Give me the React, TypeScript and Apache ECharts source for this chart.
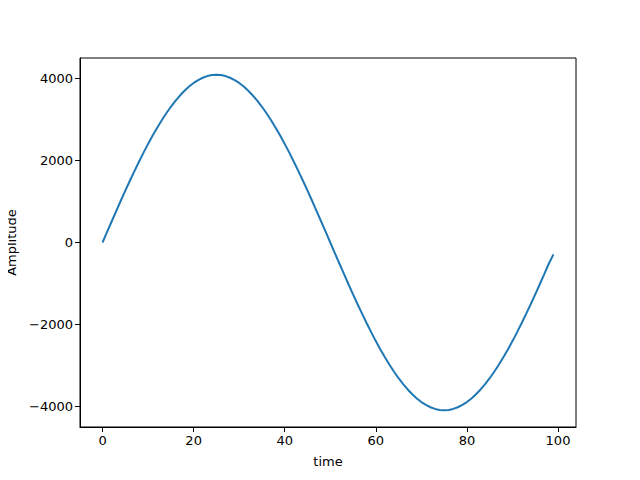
import React, { useEffect, useRef } from "react";
import * as echarts from "echarts";

// sample index 0..99
const timeSteps: number[] = Array.from({ length: 100 }, (_, i) => i);

// amplitude, one value per sample
const amplitude: number[] = [
  0, 257, 513, 767, 1019, 1266, 1508, 1744, 1973, 2195,
  2408, 2611, 2804, 2986, 3156, 3314, 3458, 3589, 3706, 3808,
  3896, 3967, 4023, 4064, 4088, 4096, 4088, 4064, 4023, 3967,
  3896, 3808, 3706, 3589, 3458, 3314, 3156, 2986, 2804, 2611,
  2408, 2195, 1973, 1744, 1508, 1266, 1019, 767, 513, 257,
  0, -257, -513, -767, -1019, -1266, -1508, -1744, -1973, -2195,
  -2408, -2611, -2804, -2986, -3156, -3314, -3458, -3589, -3706, -3808,
  -3896, -3967, -4023, -4064, -4088, -4096, -4088, -4064, -4023, -3967,
  -3896, -3808, -3706, -3589, -3458, -3314, -3156, -2986, -2804, -2611,
  -2408, -2195, -1973, -1744, -1508, -1266, -1019, -767, -513, -290,
];

const xTicks: number[] = [0, 20, 40, 60, 80, 100];
const yTicks: number[] = [-4000, -2000, 0, 2000, 4000];

const FONT = "DejaVu Sans";

const App: React.FC = () => {
  const chartRef = useRef<HTMLDivElement | null>(null);

  useEffect(() => {
    const chartDom = chartRef.current;
    if (!chartDom) return;
    const myChart = echarts.init(chartDom, undefined, { renderer: "svg" });

    const axisCommon = {
      axisLine: { show: true, onZero: false, lineStyle: { color: "#000", width: 1 } },
      axisTick: { show: true, inside: false, length: 5, lineStyle: { color: "#000", width: 1 } },
      splitLine: { show: false },
      nameTextStyle: { color: "#000", fontFamily: FONT, fontSize: 13 },
    };

    const option = {
      animation: false,
      backgroundColor: "#fff",
      grid: {
        left: 80,
        right: 64,
        top: 58,
        bottom: 53,
        show: true,
        borderColor: "#000",
        borderWidth: 1,
        containLabel: false,
        outerBoundsMode: "none",
      },
      xAxis: {
        ...axisCommon,
        type: "value",
        min: -4.95,
        max: 103.95,
        name: "time",
        nameLocation: "middle",
        nameGap: 28,
        axisTick: { ...axisCommon.axisTick, customValues: xTicks },
        axisLabel: {
          customValues: xTicks,
          color: "#000",
          fontFamily: FONT,
          fontSize: 13,
          margin: 7,
        },
      },
      yAxis: {
        ...axisCommon,
        type: "value",
        min: -4505.6,
        max: 4505.6,
        name: "Amplitude",
        nameLocation: "middle",
        nameGap: 60,
        axisTick: { ...axisCommon.axisTick, customValues: yTicks },
        axisLabel: {
          customValues: yTicks,
          color: "#000",
          fontFamily: FONT,
          fontSize: 13,
          margin: 7,
          formatter: (v: number) => String(v).replace("-", "\u2212"),
        },
      },
      series: [
        {
          type: "line",
          data: timeSteps.map((t, i) => [t, amplitude[i]]),
          showSymbol: false,
          lineStyle: { color: "#1f77b4", width: 2 },
        },
      ],
    };

    myChart.setOption(option);
    return () => {
      myChart.dispose();
    };
  }, []);

  return <div ref={chartRef} style={{ width: 640, height: 480, margin: -8 }} />;
};

export default App;
